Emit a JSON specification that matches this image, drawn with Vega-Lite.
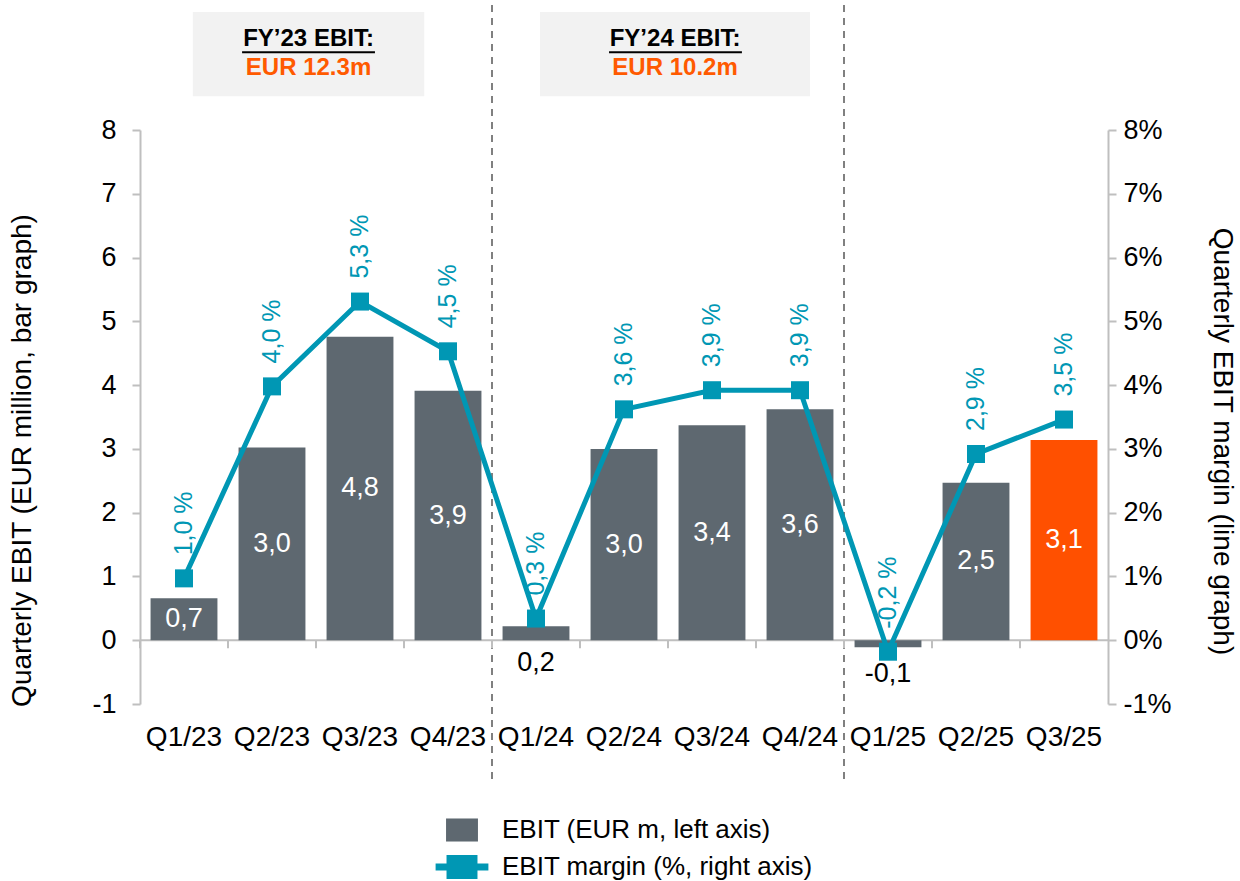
{
  "$schema": "https://vega.github.io/schema/vega-lite/v6.json",
  "width": 968,
  "height": 574,
  "autosize": {"type": "none"},
  "padding": {"left": 140, "top": 130, "right": 132, "bottom": 177},
  "config": {
    "font": "Liberation Sans",
    "view": {"stroke": null},
    "locale": {"number": {"decimal": ",", "thousands": ".", "grouping": [3], "currency": ["", " €"], "minus": "-", "percent": " %"}},
    "axis": {
      "labelFont": "Liberation Sans", "titleFont": "Liberation Sans",
      "labelColor": "#000000", "titleColor": "#000000", "titleFontWeight": "normal",
      "grid": false, "domainColor": "#bfbfbf", "tickColor": "#bfbfbf",
      "domainWidth": 2, "tickWidth": 2, "labelFontSize": 27, "titleFontSize": 28
    }
  },
  "datasets": {
    "q": [
      {"quarter": "Q1/23", "ebit": 0.66, "margin": 0.0097},
      {"quarter": "Q2/23", "ebit": 3.02, "margin": 0.0398},
      {"quarter": "Q3/23", "ebit": 4.76, "margin": 0.0531},
      {"quarter": "Q4/23", "ebit": 3.91, "margin": 0.0453},
      {"quarter": "Q1/24", "ebit": 0.22, "margin": 0.0034},
      {"quarter": "Q2/24", "ebit": 3.0, "margin": 0.0362},
      {"quarter": "Q3/24", "ebit": 3.37, "margin": 0.0392},
      {"quarter": "Q4/24", "ebit": 3.62, "margin": 0.0392},
      {"quarter": "Q1/25", "ebit": -0.11, "margin": -0.0018},
      {"quarter": "Q2/25", "ebit": 2.47, "margin": 0.0292},
      {"quarter": "Q3/25", "ebit": 3.14, "margin": 0.0346}
    ]
  },
  "layer": [
    {
      "data": {"values": [{"k": 1}]},
      "layer": [
        {
          "mark": {"type": "rect", "color": "#f2f2f2"},
          "encoding": {
            "x": {"datum": 0.6, "type": "quantitative", "scale": {"domain": [0, 11], "zero": false, "nice": false}, "axis": null},
            "x2": {"datum": 3.23},
            "y": {"datum": 9.85, "type": "quantitative", "scale": {"domain": [-1, 8], "zero": false, "nice": false}, "axis": null},
            "y2": {"datum": 8.53}
          }
        },
        {
          "mark": {"type": "rect", "color": "#f2f2f2"},
          "encoding": {
            "x": {"datum": 4.545, "type": "quantitative"},
            "x2": {"datum": 7.614},
            "y": {"datum": 9.85, "type": "quantitative"},
            "y2": {"datum": 8.53}
          }
        },
        {
          "mark": {"type": "text", "fontSize": 24, "fontWeight": "bold", "color": "#000000", "baseline": "middle", "align": "center"},
          "encoding": {
            "x": {"datum": 1.915, "type": "quantitative"},
            "y": {"datum": 9.43, "type": "quantitative"},
            "text": {"value": "FY’23 EBIT:"}
          }
        },
        {
          "mark": {"type": "text", "fontSize": 24, "fontWeight": "bold", "color": "#ff5a00", "baseline": "middle", "align": "center"},
          "encoding": {
            "x": {"datum": 1.915, "type": "quantitative"},
            "y": {"datum": 8.97, "type": "quantitative"},
            "text": {"value": "EUR 12.3m"}
          }
        },
        {
          "mark": {"type": "rule", "color": "#000000", "strokeWidth": 2},
          "encoding": {
            "x": {"datum": 1.16, "type": "quantitative"},
            "x2": {"datum": 2.67},
            "y": {"datum": 9.22, "type": "quantitative"}
          }
        },
        {
          "mark": {"type": "text", "fontSize": 24, "fontWeight": "bold", "color": "#000000", "baseline": "middle", "align": "center"},
          "encoding": {
            "x": {"datum": 6.08, "type": "quantitative"},
            "y": {"datum": 9.43, "type": "quantitative"},
            "text": {"value": "FY’24 EBIT:"}
          }
        },
        {
          "mark": {"type": "text", "fontSize": 24, "fontWeight": "bold", "color": "#ff5a00", "baseline": "middle", "align": "center"},
          "encoding": {
            "x": {"datum": 6.08, "type": "quantitative"},
            "y": {"datum": 8.97, "type": "quantitative"},
            "text": {"value": "EUR 10.2m"}
          }
        },
        {
          "mark": {"type": "rule", "color": "#000000", "strokeWidth": 2},
          "encoding": {
            "x": {"datum": 5.33, "type": "quantitative"},
            "x2": {"datum": 6.84},
            "y": {"datum": 9.22, "type": "quantitative"}
          }
        },
        {
          "mark": {"type": "rule", "color": "#808080", "strokeWidth": 2, "strokeDash": [7, 6]},
          "encoding": {
            "x": {"datum": 4, "type": "quantitative"},
            "y": {"datum": 9.96, "type": "quantitative"},
            "y2": {"datum": -2.19}
          }
        },
        {
          "mark": {"type": "rule", "color": "#808080", "strokeWidth": 2, "strokeDash": [7, 6]},
          "encoding": {
            "x": {"datum": 8, "type": "quantitative"},
            "y": {"datum": 9.96, "type": "quantitative"},
            "y2": {"datum": -2.19}
          }
        }
      ]
    },
    {
      "data": {"name": "q"},
      "layer": [
        {
          "layer": [
            {
              "data": {"values": [{"k": 1}]},
              "mark": {"type": "rule", "color": "#bfbfbf", "strokeWidth": 2},
              "encoding": {
                "y": {"datum": 0, "type": "quantitative", "scale": {"domain": [-1, 8], "zero": false, "nice": false}}
              }
            },
            {
              "mark": {"type": "rule", "color": "#bfbfbf", "strokeWidth": 2},
              "encoding": {
                "x": {"field": "quarter", "type": "nominal", "sort": null, "bandPosition": 0},
                "y": {"datum": 0, "type": "quantitative"},
                "y2": {"datum": -0.125}
              }
            },
            {
              "mark": {"type": "bar", "width": {"band": 0.76}},
              "encoding": {
                "x": {
                  "field": "quarter", "type": "nominal", "sort": null,
                  "scale": {"paddingInner": 0, "paddingOuter": 0},
                  "axis": {"title": null, "orient": "bottom", "bandPosition": 0.5, "domain": false, "ticks": false, "tickSize": 0, "labelPadding": 19, "labelAngle": 0, "labelAlign": "center", "labelOverlap": false, "labelBaseline": "top", "labelFontSize": 28}
                },
                "y": {
                  "field": "ebit", "type": "quantitative",
                  "axis": {"title": "Quarterly EBIT (EUR million, bar graph)", "orient": "left", "format": "d", "values": [-1, 0, 1, 2, 3, 4, 5, 6, 7, 8], "tickSize": 8, "labelPadding": 16, "titlePadding": 55, "titleY": 330}
                },
                "color": {
                  "condition": {"test": "datum.quarter === 'Q3/25'", "value": "#ff5000"},
                  "datum": "EBIT (EUR m, left axis)",
                  "type": "nominal",
                  "scale": {"domain": ["EBIT (EUR m, left axis)", "EBIT margin (%, right axis)"], "range": ["#5e6870", "#0097b4"]},
                  "legend": {
                    "orient": "none", "legendX": 309, "legendY": 687, "direction": "vertical", "title": null,
                    "labelFontSize": 26, "labelColor": "#000000", "labelFont": "Liberation Sans", "labelLimit": 0,
                    "symbolSize": 576, "labelOffset": 27, "rowPadding": 11, "padding": 0,
                    "encode": {
                      "symbols": {
                        "update": {
                          "shape": {"signal": "datum.value === 'EBIT (EUR m, left axis)' ? 'M-1.33,-0.96H1.33V0.96H-1.33Z' : 'M-2.2,-0.29H2.2V0.29H-2.2Z M-1.29,-1H1.29V1H-1.29Z'"},
                          "fill": {"signal": "datum.value === 'EBIT (EUR m, left axis)' ? '#5e6870' : '#0097b4'"},
                          "stroke": {"value": "transparent"},
                          "strokeWidth": {"value": 0},
                          "opacity": {"value": 1}
                        }
                      }
                    }
                  }
                }
              }
            }
          ]
        },
        {
          "layer": [
            {
              "transform": [{"filter": "datum.ebit >= 0.5"}],
              "mark": {"type": "text", "fontSize": 27, "color": "#ffffff", "baseline": "middle", "align": "center"},
              "encoding": {
                "x": {"field": "quarter", "type": "nominal", "sort": null},
                "y": {"field": "ebit", "type": "quantitative", "scale": {"domain": [-2, 16], "zero": false, "nice": false}, "axis": null},
                "text": {"field": "ebit", "type": "quantitative", "format": ".1f"}
              }
            },
            {
              "transform": [{"filter": "datum.ebit < 0.5"}],
              "mark": {"type": "text", "fontSize": 27, "color": "#000000", "baseline": "middle", "align": "center", "dy": 30},
              "encoding": {
                "x": {"field": "quarter", "type": "nominal", "sort": null},
                "y": {"field": "ebit", "type": "quantitative"},
                "text": {"field": "ebit", "type": "quantitative", "format": ".1f"}
              }
            }
          ]
        },
        {
          "layer": [
            {
              "mark": {"type": "line", "strokeWidth": 5},
              "encoding": {
                "x": {"field": "quarter", "type": "nominal", "sort": null},
                "y": {
                  "field": "margin", "type": "quantitative",
                  "scale": {"domain": [-0.01, 0.08], "zero": false, "nice": false},
                  "axis": {"title": "Quarterly EBIT margin (line graph)", "orient": "right", "values": [-0.01, 0, 0.01, 0.02, 0.03, 0.04, 0.05, 0.06, 0.07, 0.08], "labelExpr": "round(datum.value*100) + '%'", "tickSize": 8, "labelPadding": 7, "titlePadding": 36, "titleY": 311}
                },
                "color": {"datum": "EBIT margin (%, right axis)", "type": "nominal"}
              }
            },
            {
              "mark": {"type": "point", "shape": "square", "filled": true, "size": 324, "color": "#0097b4", "opacity": 1},
              "encoding": {
                "x": {"field": "quarter", "type": "nominal", "sort": null},
                "y": {"field": "margin", "type": "quantitative"}
              }
            },
            {
              "mark": {"type": "text", "fontSize": 25, "color": "#0097b4", "angle": 270, "align": "left", "baseline": "middle", "dx": 23},
              "encoding": {
                "x": {"field": "quarter", "type": "nominal", "sort": null},
                "y": {"field": "margin", "type": "quantitative"},
                "text": {"field": "margin", "type": "quantitative", "format": ".1%"}
              }
            }
          ]
        }
      ],
      "resolve": {"scale": {"y": "independent"}}
    }
  ],
  "resolve": {"scale": {"x": "independent", "y": "independent"}}
}
